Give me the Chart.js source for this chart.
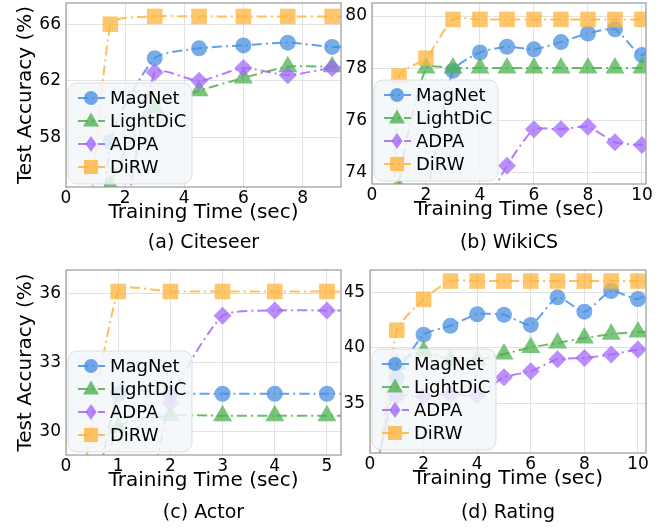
<!DOCTYPE html>
<html>
<head>
<meta charset="utf-8">
<script src="https://cdn.jsdelivr.net/npm/chart.js@4/dist/chart.umd.min.js"></script>
<style>
  body { margin: 0; background: #fff; width: 668px; height: 529px; position: relative; overflow: hidden; }
  .panel { position: absolute; }
</style>
</head>
<body>
<div class="panel" style="left:0;top:0;width:345px;height:262px"><canvas id="chart-citeseer"></canvas></div>
<div class="panel" style="left:345px;top:0;width:323px;height:262px"><canvas id="chart-wikics"></canvas></div>
<div class="panel" style="left:0;top:262px;width:345px;height:267px"><canvas id="chart-actor"></canvas></div>
<div class="panel" style="left:345px;top:262px;width:323px;height:267px"><canvas id="chart-rating"></canvas></div>
<script>
const seriesNames = ['MagNet', 'LightDiC', 'ADPA', 'DiRW'];

// (a) Citeseer
const citeseerTime = [0, 1.5, 3, 4.5, 6, 7.5, 9, 10.5];
const citeseerMagNet = [15, 57.7, 63.6, 64.3, 64.5, 64.7, 64.4, 64.4];
const citeseerLightDiC = [20, 54.6, 60.1, 61.3, 62.2, 63.0, 63.0, 63.0];
const citeseerADPA = [20, 45, 62.6, 62.0, 62.9, 62.4, 62.9, 62.9];
const citeseerDiRW = [30, 66.0, 66.55, 66.55, 66.55, 66.55, 66.55, 66.55];
const citeseerXTicks = [0, 2, 4, 6, 8];
const citeseerYTicks = [58, 62, 66];

// (b) WikiCS
const wikicsTime = [0, 1, 2, 3, 4, 5, 6, 7, 8, 9, 10, 11];
const wikicsMagNet = [40, 65, 72.8, 77.9, 78.6, 78.82, 78.72, 79.0, 79.33, 79.49, 78.5, 79.8];
const wikicsLightDiC = [40, 73.4, 78.0, 78.0, 78.0, 78.0, 78.0, 78.0, 78.0, 78.0, 78.0, 78.0];
const wikicsADPA = [40, 60, 65, 70, 72.3, 74.25, 75.65, 75.65, 75.75, 75.15, 75.05, 75.05];
const wikicsDiRW = [40, 77.7, 78.38, 79.87, 79.87, 79.87, 79.87, 79.87, 79.87, 79.87, 79.87, 79.87];
const wikicsXTicks = [0, 2, 4, 6, 8, 10];
const wikicsYTicks = [74, 76, 78, 80];

// (c) Actor
const actorTime = [0, 1, 2, 3, 4, 5, 6];
const actorMagNet = [19, 31.65, 31.65, 31.65, 31.65, 31.65, 31.65];
const actorLightDiC = [21, 30.18, 30.7, 30.7, 30.7, 30.7, 30.7];
const actorADPA = [10, 20, 31.26, 35.02, 35.25, 35.25, 35.25];
const actorDiRW = [23, 36.07, 36.07, 36.07, 36.07, 36.07, 36.07];
const actorXTicks = [0, 1, 2, 3, 4, 5];
const actorYTicks = [30, 33, 36];

// (d) Rating
const ratingTime = [0, 1, 2, 3, 4, 5, 6, 7, 8, 9, 10, 11];
const ratingMagNet = [26, 37.3, 41.2, 42.0, 43.05, 43.0, 42.08, 44.58, 43.28, 45.15, 44.43, 46.0];
const ratingLightDiC = [25, 38.5, 39.7, 38.9, 38.9, 39.45, 40.05, 40.45, 40.9, 41.25, 41.45, 41.5];
const ratingADPA = [27, 35.6, 35.6, 35.8, 35.7, 37.35, 37.9, 38.97, 39.1, 39.4, 39.85, 40.0];
const ratingDiRW = [23, 41.6, 44.4, 46.05, 46.05, 46.05, 46.05, 46.05, 46.05, 46.05, 46.05, 46.05];
const ratingXTicks = [0, 2, 4, 6, 8, 10];
const ratingYTicks = [35, 40, 45];

const seriesColors = ['74,144,226', '76,178,80', '163,104,250', '255,180,60'];
const seriesShapes = ['circle', 'triangle', 'rectRot', 'rect'];
const seriesRadius = [8, 11, 9, 11];
const lineDash = [10, 4, 2, 4];
const tickFont = { family: '"DejaVu Sans", sans-serif', size: 17 };
const titleFont = { family: '"DejaVu Sans", sans-serif', size: 20 };
const legendFont = '18px "DejaVu Sans", sans-serif';
const captionFont = '19px "DejaVu Sans", sans-serif';

function drawMarker(ctx, shape, x, y, r) {
  ctx.beginPath();
  if (shape === 'circle') {
    ctx.arc(x, y, r, 0, Math.PI * 2);
  } else if (shape === 'triangle') {
    ctx.moveTo(x, y - r * 0.85);
    ctx.lineTo(x + r * 0.8, y + r * 0.55);
    ctx.lineTo(x - r * 0.8, y + r * 0.55);
    ctx.closePath();
  } else if (shape === 'rectRot') {
    ctx.moveTo(x, y - r);
    ctx.lineTo(x + r * 0.7, y);
    ctx.lineTo(x, y + r);
    ctx.lineTo(x - r * 0.7, y);
    ctx.closePath();
  } else {
    const s = r * Math.SQRT1_2;
    ctx.rect(x - s, y - s, s * 2, s * 2);
  }
  ctx.fill();
}

// frame, inner legend and caption under each panel
const panelDecor = {
  id: 'panelDecor',
  afterDatasetsDraw(chart, args, opts) {
    const ctx = chart.ctx;
    const a = chart.chartArea;
    const bx = a.left + 2, bw = 124, bh = 101, by = a.bottom - 3 - bh;
    ctx.save();
    ctx.beginPath();
    ctx.roundRect(bx, by, bw, bh, 9);
    ctx.fillStyle = 'rgba(243,247,249,0.85)';
    ctx.fill();
    ctx.strokeStyle = 'rgba(215,220,224,0.9)';
    ctx.lineWidth = 1;
    ctx.stroke();
    chart.data.datasets.forEach((ds, i) => {
      const cy = by + 15 + i * 23;
      ctx.strokeStyle = 'rgba(' + seriesColors[i] + ',0.85)';
      ctx.lineWidth = 2;
      ctx.setLineDash(lineDash);
      ctx.beginPath();
      ctx.moveTo(bx + 10, cy);
      ctx.lineTo(bx + 37, cy);
      ctx.stroke();
      ctx.setLineDash([]);
      ctx.fillStyle = 'rgba(' + seriesColors[i] + ',0.8)';
      drawMarker(ctx, seriesShapes[i], bx + 23, cy, seriesRadius[i] - 1);
      ctx.fillStyle = '#000';
      ctx.font = legendFont;
      ctx.textBaseline = 'middle';
      ctx.textAlign = 'left';
      ctx.fillText(ds.label, bx + 42, cy + 1);
    });
    ctx.restore();
  },
  afterDraw(chart, args, opts) {
    const ctx = chart.ctx;
    const a = chart.chartArea;
    ctx.save();
    ctx.strokeStyle = '#9a9a9a';
    ctx.lineWidth = 1.2;
    ctx.strokeRect(a.left, a.top, a.right - a.left, a.bottom - a.top);
    ctx.fillStyle = '#000';
    ctx.font = captionFont;
    ctx.textAlign = 'center';
    ctx.textBaseline = 'middle';
    ctx.fillText(opts.caption, (a.left + a.right) / 2, opts.captionY);
    ctx.restore();
  }
};

function noScalePadding(s) {
  s.paddingTop = 0;
  s.paddingBottom = 0;
  s.paddingLeft = 0;
  s.paddingRight = 0;
}

function makePanel(id, p) {
  const values = [p.magnet, p.lightdic, p.adpa, p.dirw];
  const datasets = values.map((vals, i) => ({
    label: seriesNames[i],
    data: p.time.map((t, k) => ({ x: t, y: vals[k] })),
    borderColor: 'rgba(' + seriesColors[i] + ',0.85)',
    backgroundColor: 'rgba(' + seriesColors[i] + ',0.75)',
    pointBorderColor: 'rgba(' + seriesColors[i] + ',0.75)',
    borderWidth: 2,
    borderDash: lineDash,
    pointStyle: seriesShapes[i],
    pointRadius: seriesRadius[i],
    pointBorderWidth: 0,
    tension: 0.2,
    order: 3 - i
  }));
  new Chart(document.getElementById(id), {
    type: 'line',
    data: { datasets: datasets },
    plugins: [panelDecor],
    options: {
      animation: false,
      responsive: true,
      maintainAspectRatio: false,
      layout: { padding: p.pad, autoPadding: false },
      plugins: {
        legend: { display: false },
        tooltip: { enabled: false },
        panelDecor: { caption: p.caption, captionY: p.captionY }
      },
      scales: {
        x: {
          type: 'linear',
          min: p.xRange[0],
          max: p.xRange[1],
          afterBuildTicks: s => { s.ticks = p.xTicks.map(v => ({ value: v })); },
          afterFit: s => { s.height = 38; noScalePadding(s); },
          ticks: { font: tickFont, color: '#000', padding: 1, maxRotation: 0 },
          grid: { color: '#e2e2e2', drawTicks: false },
          border: { display: false },
          title: { display: true, text: 'Training Time (sec)', font: titleFont, color: '#000', padding: 0 }
        },
        y: {
          min: p.yRange[0],
          max: p.yRange[1],
          afterBuildTicks: s => { s.ticks = p.yTicks.map(v => ({ value: v })); },
          afterFit: s => { s.width = p.yWidth; noScalePadding(s); },
          ticks: { font: tickFont, color: '#000', padding: 5 },
          grid: { color: '#e2e2e2', drawTicks: false },
          border: { display: false },
          title: { display: p.yTitle, text: 'Test Accuracy (%)', font: titleFont, color: '#000', padding: { top: 14, bottom: 0 } }
        }
      }
    }
  });
}

makePanel('chart-citeseer', {
  time: citeseerTime, magnet: citeseerMagNet, lightdic: citeseerLightDiC, adpa: citeseerADPA, dirw: citeseerDiRW,
  xRange: [0, 9.3], yRange: [54.5, 67.5], xTicks: citeseerXTicks, yTicks: citeseerYTicks,
  pad: { left: 0, right: 4, top: 3, bottom: 37 }, yWidth: 66, yTitle: true,
  caption: '(a) Citeseer', captionY: 243
});
makePanel('chart-wikics', {
  time: wikicsTime, magnet: wikicsMagNet, lightdic: wikicsLightDiC, adpa: wikicsADPA, dirw: wikicsDiRW,
  xRange: [0, 10.15], yRange: [73.55, 80.5], xTicks: wikicsXTicks, yTicks: wikicsYTicks,
  pad: { left: 0, right: 22, top: 3, bottom: 40 }, yWidth: 27, yTitle: false,
  caption: '(b) WikiCS', captionY: 243
});
makePanel('chart-actor', {
  time: actorTime, magnet: actorMagNet, lightdic: actorLightDiC, adpa: actorADPA, dirw: actorDiRW,
  xRange: [0, 5.27], yRange: [29, 37], xTicks: actorXTicks, yTicks: actorYTicks,
  pad: { left: 0, right: 4, top: 8, bottom: 36 }, yWidth: 66, yTitle: true,
  caption: '(c) Actor', captionY: 251
});
makePanel('chart-rating', {
  time: ratingTime, magnet: ratingMagNet, lightdic: ratingLightDiC, adpa: ratingADPA, dirw: ratingDiRW,
  xRange: [0, 10.3], yRange: [30.5, 47.05], xTicks: ratingXTicks, yTicks: ratingYTicks,
  pad: { left: 0, right: 22, top: 8, bottom: 38 }, yWidth: 25, yTitle: false,
  caption: '(d) Rating', captionY: 251
});
</script>
</body>
</html>
